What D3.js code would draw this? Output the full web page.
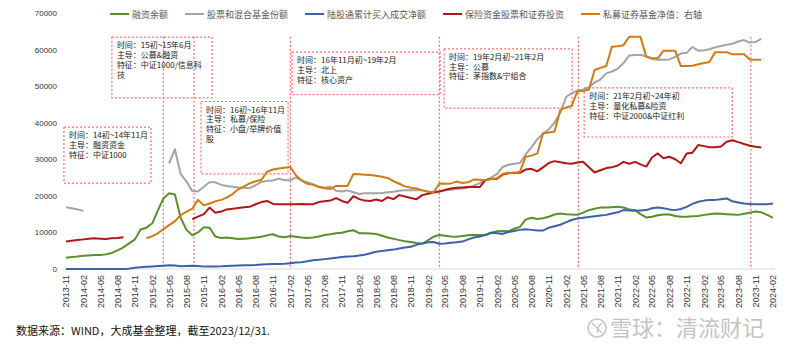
<!DOCTYPE html>
<meta charset="utf-8">
<style>
  body { margin: 0; background: #fff; }
  svg { display: block; font-family: "Liberation Sans", Arial, "Noto Sans CJK SC", sans-serif; }
  .cjk { font-family: "Noto Sans CJK SC", sans-serif; }
</style>
<svg width="800" height="354"></svg>

<script src="https://cdn.jsdelivr.net/npm/d3@7"></script>
<script>
// monthly data, 2013-11 .. 2024-02 (亿元)
var firstMonth = "2013-11",
    lastMonth = "2024-02";

var tickLabels = ["2013-11","2014-02","2014-05","2014-08","2014-11","2015-02","2015-05","2015-08",
  "2015-11","2016-02","2016-05","2016-08","2016-11","2017-02","2017-05","2017-08","2017-11",
  "2018-02","2018-05","2018-08","2018-11","2019-02","2019-05","2019-08","2019-11","2020-02",
  "2020-05","2020-08","2020-11","2021-02","2021-05","2021-08","2021-11","2022-02","2022-05",
  "2022-08","2022-11","2023-02","2023-05","2023-08","2023-11","2024-02"];

var yTicks = [0, 10000, 20000, 30000, 40000, 50000, 60000, 70000];

// 融资余额
var margin = [3100,3300,3400,3600,3700,3800,3850,4000,4400,5100,
  5900,7000,8100,10800,11300,12500,15800,19300,20700,20400,
  14000,10700,9200,10000,11400,11300,8900,8500,8600,8400,
  8200,8300,8400,8600,8800,9200,9500,8900,8700,9000,
  8800,8600,8500,8600,8900,9300,9500,9800,9900,10300,
  10600,9800,9800,9700,9600,9100,8600,8300,7900,7600,
  7400,7100,6900,7900,8800,9300,9100,8900,8800,9000,
  9200,9300,9300,9400,9900,10300,10400,10300,11000,11500,
  13500,14000,13700,13900,14300,14900,15200,15000,14900,14800,
  15400,16100,16500,16800,16800,16900,17000,16800,16300,16100,
  15000,14100,14300,14700,14900,14900,14500,14300,14300,14400,
  14500,14800,15000,15200,15100,15000,14900,14800,15100,15400,
  15700,15500,14800,14000];

// 股票和混合基金份额
var fundShares = [16900,16600,16300,15900,null,null,null,null,null,null,
  null,null,null,null,null,null,null,null,28900,32700,
  26000,23900,21300,21200,22500,23700,23700,23000,22700,22500,
  22300,22200,22100,22900,23800,24100,24200,24700,24300,24300,
  25000,24300,23700,23200,22600,22200,22500,21400,21200,21500,
  21000,20500,20700,20700,20700,20800,21000,21100,21400,21500,
  21500,21500,21500,21200,21100,21200,21500,21700,21900,22000,
  22300,22800,23500,24300,25000,26000,27900,28500,28800,29000,
  31300,33300,35500,37000,38200,40000,42800,47100,48000,48800,
  49000,49700,51000,51800,53500,54000,54800,56300,58400,58500,
  58500,58200,57400,57200,57200,57300,58000,58900,59100,60700,
  59700,59800,60100,60600,61000,61300,61600,62200,62600,61900,
  62100,62900];

// 陆股通累计买入成交净额
var northbound = [0,0,0,0,0,0,0,0,0,0,
  0,100,350,450,600,700,800,900,1000,950,
  750,850,900,850,650,650,700,750,850,900,
  950,1000,1000,1100,1250,1300,1350,1400,1450,1600,
  1750,1850,2100,2400,2500,2700,2900,3100,3300,3400,
  3500,3700,3900,4300,4700,4900,5100,5300,5600,5900,
  6100,6600,7000,7300,7400,6900,7000,7200,7300,7500,
  8100,8600,8900,9300,9900,9800,9600,10100,10400,10700,
  10900,10700,10500,10500,11300,11700,12100,12800,13400,13800,
  14000,14200,14400,14600,14800,15200,15500,16100,16000,15900,
  16000,16100,16600,16800,16600,16300,16100,16400,17000,17800,
  18400,18700,18900,18900,19100,19300,18500,18200,17900,17800,
  17700,17700,17700,17900];

// 保险资金股票和证券投资
var insurance = [7500,7700,7900,8100,8300,8400,8300,8200,8400,8500,
  8700,null,null,null,null,null,null,null,null,null,
  null,null,13600,14300,15000,16800,15400,15700,16300,16500,
  16700,16900,17000,17700,18300,18600,17800,17700,17700,17700,
  17700,17800,17700,17700,18300,18500,18700,19400,18600,18100,
  19900,19100,18700,18600,19000,18600,19600,19100,20200,19800,
  19400,19100,20200,20600,20900,21200,21600,22000,22200,22300,
  22400,22400,22400,24300,24600,24700,25800,26200,26300,26300,
  27200,27400,26700,27800,29000,29500,29200,28900,28800,29100,
  29300,27800,26400,27000,27600,27800,28300,29300,28800,29300,
  28600,28000,30500,31600,30300,30700,30000,28900,31600,31800,
  33900,33600,33300,33300,33500,34800,35200,34700,34200,33700,
  33400,33200];

// 私募证券基金净值（右轴）
var privateFunds = [null,null,null,null,null,null,null,null,null,null,
  null,null,null,null,8400,9000,9700,10900,12000,13100,
  14700,15700,16500,18900,17400,17900,18500,18900,19500,20500,
  21800,22600,23400,24000,24400,26600,27200,27500,27700,27900,
  25700,24200,23300,23000,22400,22100,21900,22700,22700,22700,
  26000,25900,25800,25700,25500,25200,24900,24000,23300,22600,
  22200,22000,21500,21100,20900,23400,23300,23400,23900,23500,
  23700,24500,24400,24300,24600,24800,26000,26300,26200,26600,
  30700,31000,31600,37100,37300,37600,43500,44200,44600,48500,
  48700,49000,54400,55000,55500,60800,60900,61200,63500,63500,
  63500,58000,57700,57600,59700,59700,59700,55500,55500,55600,
  56000,56300,56600,59300,59300,59300,58700,58700,58700,57300,
  57200,57200];

var seriesNames = ["融资余额", "股票和混合基金份额", "陆股通累计买入成交净额", "保险资金股票和证券投资", "私募证券基金净值：右轴"];
var seriesColors = ["#5a8f2b", "#a3a3a3", "#3a62a6", "#b51515", "#d47a12"];

// phase markers and notes
var phaseLines = ["2015-04-01", "2015-09-10", "2017-02-01", "2019-04-01", "2021-04-06", "2023-10-07"];
var phaseTop = 63500;
var notes = [
  {from: "2013-10-21", to: "2015-01-25", top: 38800, bottom: 23500,
   lines: ["时间：14初~14年11月", "主导：融资资金", "特征：中证1000"]},
  {from: "2014-07-02", to: "2015-12-14", top: 63400, bottom: 46800,
   lines: ["时间：15初~15年6月", "主导：公募&融资", "特征：中证1000/信息科", "技"]},
  {from: "2015-10-17", to: "2017-01-20", top: 45800, bottom: 26000,
   lines: ["时间：16初~16年11月", "主导：私募/保险", "特征：小盘/举牌价值", "股"]},
  {from: "2017-02-10", to: "2019-04-05", top: 59300, bottom: 47700,
   lines: ["时间：16年11月初~19年2月", "主导：北上", "特征：核心资产"]},
  {from: "2019-04-26", to: "2021-03-04", top: 60200, bottom: 44000,
   lines: ["时间：19年2月初~21年2月", "主导：公募", "特征：茅指数&宁组合"]},
  {from: "2021-05-07", to: "2023-06-30", top: 49500, bottom: 36100,
   lines: ["时间：21年2月初~24年初", "主导：量化私募&险资", "特征：中证2000&中证红利"]}
];

var svg = d3.select("svg"),
    plot = {left: 66, right: 773, top: 13, bottom: 269};

var parseMonth = d3.timeParse("%Y-%m"),
    parseDay = d3.timeParse("%Y-%m-%d");

var months = d3.timeMonth.range(parseMonth(firstMonth), d3.timeMonth.offset(parseMonth(lastMonth), 1));

var x = d3.scaleTime()
    .domain([parseMonth(firstMonth), parseMonth(lastMonth)])
    .range([plot.left, plot.right]);

var y = d3.scaleLinear()
    .domain([0, 70000])
    .range([plot.bottom, plot.top]);

// right axis for 私募 (not drawn in the original)
var yRight = d3.scaleLinear()
    .domain([0, 70000])
    .range([plot.bottom, plot.top]);

// Y AXIS
var yAxis = svg.append("g")
    .attr("transform", "translate(" + plot.left + ",0)")
    .call(d3.axisLeft(y).tickValues(yTicks).tickSize(0).tickPadding(9).tickFormat(d3.format("d")));
yAxis.select(".domain").remove();
yAxis.selectAll("text")
    .attr("fill", "#333")
    .style("font-size", "8px");

// X AXIS
var xAxis = svg.append("g")
    .attr("transform", "translate(0," + plot.bottom + ")")
    .call(d3.axisBottom(x)
      .tickValues(tickLabels.map(parseMonth))
      .tickFormat(d3.timeFormat("%Y-%m"))
      .tickSize(0));
xAxis.select(".domain")
    .attr("stroke", "#d9d9d9")
    .attr("d", "M" + (plot.left - 3) + ",0H" + (plot.right + 2));
xAxis.selectAll("text")
    .attr("transform", "rotate(-90)")
    .attr("text-anchor", "end")
    .attr("x", -6)
    .attr("y", 0)
    .attr("dy", "0.33em")
    .attr("fill", "#333")
    .style("font-size", "9px");

// PHASE LINES + NOTE BOXES
var dashColor = "#ff6b6b";
svg.append("g").selectAll("line")
    .data(phaseLines)
  .enter().append("line")
    .attr("x1", function(d) { return x(parseDay(d)); })
    .attr("x2", function(d) { return x(parseDay(d)); })
    .attr("y1", y(phaseTop))
    .attr("y2", y(0))
    .attr("stroke", dashColor)
    .attr("stroke-width", 1.2)
    .attr("stroke-dasharray", "2,2");

var note = svg.append("g").selectAll("g")
    .data(notes)
  .enter().append("g");

note.append("rect")
    .attr("x", function(d) { return x(parseDay(d.from)); })
    .attr("y", function(d) { return y(d.top); })
    .attr("width", function(d) { return x(parseDay(d.to)) - x(parseDay(d.from)); })
    .attr("height", function(d) { return y(d.bottom) - y(d.top); })
    .attr("fill", "none")
    .attr("stroke", dashColor)
    .attr("stroke-width", 1.2)
    .attr("stroke-dasharray", "2,2");

note.each(function(d) {
  var g = d3.select(this);
  d.lines.forEach(function(t, k) {
    g.append("text")
      .attr("class", "cjk")
      .attr("x", x(parseDay(d.from)) + 5)
      .attr("y", y(d.top) + 11 + k * 9.8)
      .attr("fill", "#222")
      .style("font-size", "8px")
      .text(t);
  });
});

// LINES
var allSeries = [margin, fundShares, northbound, insurance, privateFunds];
var scales = [y, y, y, y, yRight];

allSeries.forEach(function(values, s) {
  var line = d3.line()
      .defined(function(d) { return d != null; })
      .x(function(d, i) { return x(months[i]); })
      .y(function(d) { return scales[s](d); });
  svg.append("path")
      .datum(values)
      .attr("fill", "none")
      .attr("stroke", seriesColors[s])
      .attr("stroke-width", 2)
      .attr("stroke-linejoin", "round")
      .attr("d", line);
});

// LEGEND
var lx = 110, ly = 14;
seriesNames.forEach(function(name, s) {
  svg.append("line")
      .attr("x1", lx).attr("x2", lx + 19)
      .attr("y1", ly).attr("y2", ly)
      .attr("stroke", seriesColors[s])
      .attr("stroke-width", 2);
  var t = svg.append("text")
      .attr("class", "cjk")
      .attr("x", lx + 22)
      .attr("y", ly + 3.5)
      .attr("fill", "#595959")
      .style("font-size", "9px")
      .text(name);
  lx += 22 + t.node().getComputedTextLength() + 17;
});

// SOURCE + WATERMARK
svg.append("text")
    .attr("class", "cjk")
    .attr("x", 16)
    .attr("y", 335)
    .attr("fill", "#111")
    .style("font-size", "11px")
    .text("数据来源：WIND，大成基金整理，截至2023/12/31.");

svg.append("circle")
    .attr("cx", 597).attr("cy", 328).attr("r", 9)
    .attr("fill", "none").attr("stroke", "#c4c4c4").attr("stroke-width", 1.5);
svg.append("path")
    .attr("d", "M592,323 L602,333 M602,323 Q596,328 598,333")
    .attr("fill", "none").attr("stroke", "#c4c4c4").attr("stroke-width", 1.5);
svg.append("text")
    .attr("class", "cjk")
    .attr("x", 610)
    .attr("y", 336)
    .attr("fill", "#c4c4c4")
    .style("font-size", "22px")
    .text("雪球：清流财记");
</script>
